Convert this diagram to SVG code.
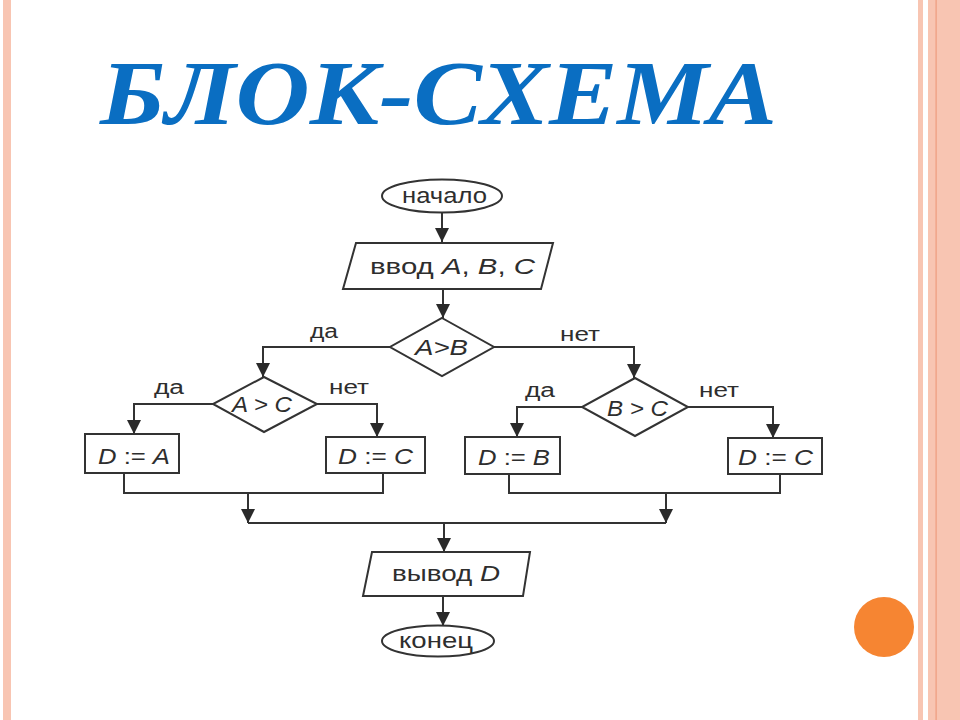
<svg xmlns="http://www.w3.org/2000/svg" width="960" height="720" viewBox="0 0 960 720">
<style>
.shape{fill:#fff;stroke:#333;stroke-width:2}
.conn{fill:none;stroke:#333;stroke-width:2}
.t{font-family:"Liberation Sans",Arial,sans-serif;font-size:22px;fill:#2e2e2e}
.lbl{font-family:"Liberation Sans",Arial,sans-serif;font-size:20px;fill:#2e2e2e}
.i{font-style:italic}
.title{font-family:"Liberation Serif","Times New Roman",serif;font-weight:bold;font-style:italic;font-size:92px;fill:#0A6EC2}
.band{fill:#F8C5B2}
</style>
<defs>
<marker id="ah" viewBox="0 0 14 14" refX="14" refY="7" markerWidth="14" markerHeight="14" orient="auto" markerUnits="userSpaceOnUse">
<path d="M0,0 L14,7 L0,14 z" fill="#2a2a2a"/>
</marker>
</defs>
<rect x="0" y="0" width="960" height="720" fill="#fff"/>
<g id="decor">
<rect class="band" x="3" y="0" width="8" height="720"/>
<rect class="band" x="918" y="0" width="5" height="720"/>
<rect class="band" x="928" y="0" width="32" height="720"/>
<rect x="935.5" y="0" width="1.2" height="720" fill="#EE9C7E"/>
<circle cx="884" cy="627" r="30" fill="#F68532"/>
</g>
<g id="title">
<text class="title" x="100" y="124" textLength="677" lengthAdjust="spacingAndGlyphs">БЛОК-СХЕМА</text>
</g>
<g id="connectors">
<path class="conn" d="M442,213 V242" marker-end="url(#ah)"/>
<path class="conn" d="M443,289 V318" marker-end="url(#ah)"/>
<path class="conn" d="M390,347 H263 V377" marker-end="url(#ah)"/>
<path class="conn" d="M494,347 H634 V378" marker-end="url(#ah)"/>
<path class="conn" d="M213,404 H134 V434" marker-end="url(#ah)"/>
<path class="conn" d="M317,404 H377 V437" marker-end="url(#ah)"/>
<path class="conn" d="M582,407 H517 V437" marker-end="url(#ah)"/>
<path class="conn" d="M688,407 H773 V438" marker-end="url(#ah)"/>
<path class="conn" d="M124,473 V493 H383 V473"/>
<path class="conn" d="M248,493 V523" marker-end="url(#ah)"/>
<path class="conn" d="M509,474 V493 H780 V474"/>
<path class="conn" d="M666,493 V523" marker-end="url(#ah)"/>
<path class="conn" d="M248,523 H666"/>
<path class="conn" d="M444,523 V552" marker-end="url(#ah)"/>
<path class="conn" d="M443,596 V626" marker-end="url(#ah)"/>
<text class="lbl" x="310" y="338" textLength="28" lengthAdjust="spacingAndGlyphs">да</text>
<text class="lbl" x="560" y="341" textLength="40" lengthAdjust="spacingAndGlyphs">нет</text>
<text class="lbl" x="154" y="394" textLength="30" lengthAdjust="spacingAndGlyphs">да</text>
<text class="lbl" x="329" y="394" textLength="40" lengthAdjust="spacingAndGlyphs">нет</text>
<text class="lbl" x="525" y="397" textLength="30" lengthAdjust="spacingAndGlyphs">да</text>
<text class="lbl" x="699" y="397" textLength="40" lengthAdjust="spacingAndGlyphs">нет</text>
</g>
<g id="start">
<ellipse class="shape" cx="442" cy="196" rx="60" ry="16.5"/>
<text class="t" x="402" y="203" textLength="85" lengthAdjust="spacingAndGlyphs">начало</text>
</g>
<g id="input">
<polygon class="shape" points="356,243 553,243 541,289 343,289"/>
<text class="t" x="370" y="274" textLength="165" lengthAdjust="spacingAndGlyphs">ввод  <tspan class="i">A</tspan>, <tspan class="i">B</tspan>, <tspan class="i">C</tspan></text>
</g>
<g id="cond-ab">
<polygon class="shape" points="442,318 494,347 442,376 390,347"/>
<text class="t i" x="415" y="355" textLength="53" lengthAdjust="spacingAndGlyphs">A&gt;B</text>
</g>
<g id="cond-ac">
<polygon class="shape" points="264,377 317,404 264,432 213,404"/>
<text class="t i" x="232" y="412" textLength="60" lengthAdjust="spacingAndGlyphs">A &gt; C</text>
</g>
<g id="cond-bc">
<polygon class="shape" points="635,378 688,407 635,436 582,407"/>
<text class="t i" x="607" y="416" textLength="61" lengthAdjust="spacingAndGlyphs">B &gt; C</text>
</g>
<g id="d-a">
<rect class="shape" x="85" y="434" width="94" height="39"/>
<text class="t" x="98" y="464" textLength="72" lengthAdjust="spacingAndGlyphs"><tspan class="i">D</tspan> := <tspan class="i">A</tspan></text>
</g>
<g id="d-c1">
<rect class="shape" x="326" y="437" width="99" height="36"/>
<text class="t" x="338" y="464" textLength="75" lengthAdjust="spacingAndGlyphs"><tspan class="i">D</tspan> := <tspan class="i">C</tspan></text>
</g>
<g id="d-b">
<rect class="shape" x="465" y="437" width="95" height="37"/>
<text class="t" x="478" y="465" textLength="72" lengthAdjust="spacingAndGlyphs"><tspan class="i">D</tspan> := <tspan class="i">B</tspan></text>
</g>
<g id="d-c2">
<rect class="shape" x="728" y="438" width="94" height="36"/>
<text class="t" x="738" y="465" textLength="75" lengthAdjust="spacingAndGlyphs"><tspan class="i">D</tspan> := <tspan class="i">C</tspan></text>
</g>
<g id="output">
<polygon class="shape" points="372,552 530,552 523,596 363,596"/>
<text class="t" x="392" y="581" textLength="108" lengthAdjust="spacingAndGlyphs">вывод  <tspan class="i">D</tspan></text>
</g>
<g id="end">
<ellipse class="shape" cx="438" cy="641" rx="56" ry="15.5"/>
<text class="t" x="399" y="648" textLength="74" lengthAdjust="spacingAndGlyphs">конец</text>
</g>
</svg>
